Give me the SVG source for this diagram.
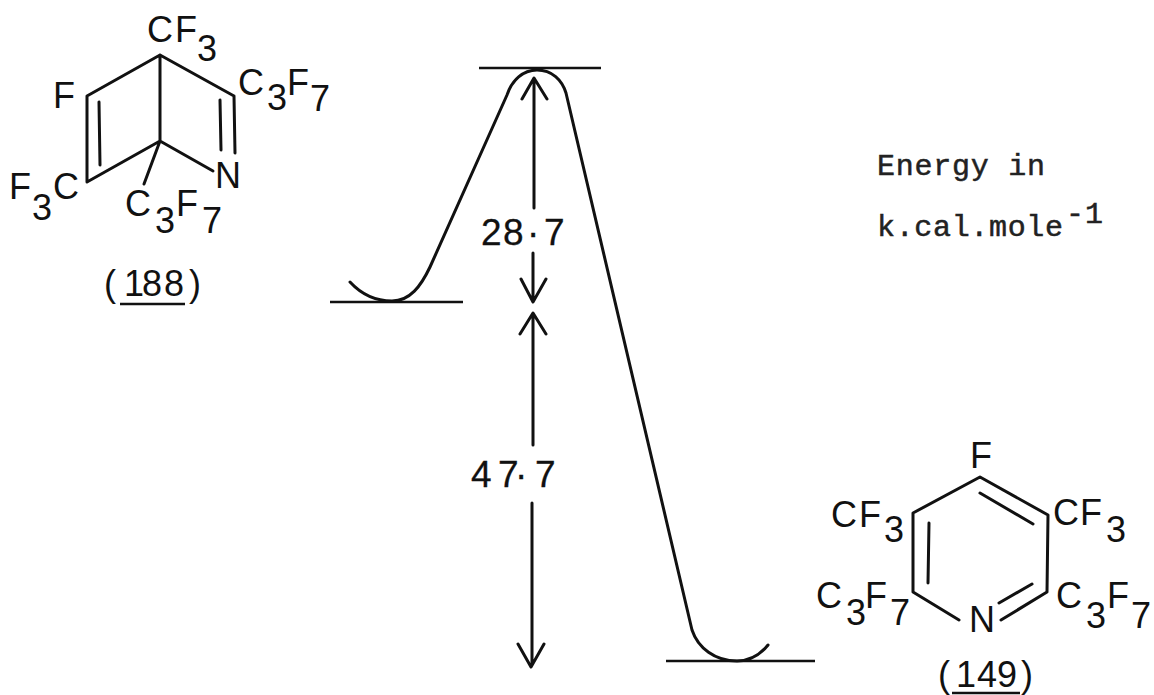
<svg xmlns="http://www.w3.org/2000/svg" width="1154" height="695" viewBox="0 0 1154 695">
<style>
.l{fill:none;stroke:#111;stroke-width:3;stroke-linecap:round;stroke-linejoin:round}
.h{fill:none;stroke:#111;stroke-width:2.4;stroke-linecap:butt}
.t{font-family:"Liberation Sans",Arial,sans-serif;font-size:36px;fill:#111}
.n{font-family:"Liberation Sans",Arial,sans-serif;font-size:37px;fill:#111}
.m{font-family:"Liberation Mono",monospace;font-size:30px;fill:#222;stroke:#222;stroke-width:.5}
</style>
<rect width="1154" height="695" fill="#fff"/>
<g id="connectors">
<path class="h" d="M330 302H463M479 68H601M666 661H815"/>
<path class="l" d="M350 282C362 295 375 301 392 301C410 301 421 286 430 267L507 95C512 80 523 70 537 70C552 70 562 80 566 93L692 630C698 648 715 661 737 661C750 661 760 655 768 645"/>
<path class="l" d="M534 80V208M533 253V301M522 99L534 78L547 99M521 279L533 302L546 279"/>
<path class="l" d="M533 315V445M532 503V665M520 334L533 313L546 334M518 644L531 667L544 644"/>
</g>
<g id="node-188">
<path class="l" d="M234 96L160 55L87 96V182L160 141L213 171M160 55V141L144 184M99 102L100 165M234 96L235 153M220 100L221 150"/>
<text class="t" x="147 175 197" y="42 42 61">CF3</text>
<text class="t" x="53" y="108">F</text>
<text class="t" x="238 267 287 310" y="95 110 95 111">C3F7</text>
<text class="t" x="215" y="188">N</text>
<text class="t" x="9 32 53" y="199 220 199">F3C</text>
<text class="t" x="125 155 176 202" y="216 233 216 233">C3F7</text>
<text class="t" x="104 124 142 164 189" y="296">(188)</text>
<path class="h" d="M120 304H185"/>
</g>
<g id="labels">
<text class="n" x="481 503 527 544" y="245" style="stroke:#111;stroke-width:.3">28·7</text>
<text class="n" x="471 498 515 535" y="487" style="stroke:#111;stroke-width:.3">47·7</text>
<text class="m" x="877" y="175" textLength="168">Energy in</text>
<text class="m" x="877" y="236" textLength="186">k.cal.mole</text>
<text class="m" x="1066 1085" y="223">-1</text>
</g>
<g id="node-149">
<path class="l" d="M1001 620L1047 592L1048 515L980 477L913 513V592L959 620M999 603L1032 584M980 493L1033 524M929 523L928 583"/>
<text class="t" x="970" y="468">F</text>
<text class="t" x="831 859 884" y="527 527 542">CF3</text>
<text class="t" x="1053 1080 1106" y="525 525 542">CF3</text>
<text class="t" x="816 846 865 890" y="608 625 608 625">C3F7</text>
<text class="t" x="1056 1086 1107 1131" y="608 628 608 628">C3F7</text>
<text class="t" x="969" y="632">N</text>
<text class="t" x="938 956 977 997 1021" y="687">(149)</text>
<path class="h" d="M952 693H1020"/>
</g>
</svg>
